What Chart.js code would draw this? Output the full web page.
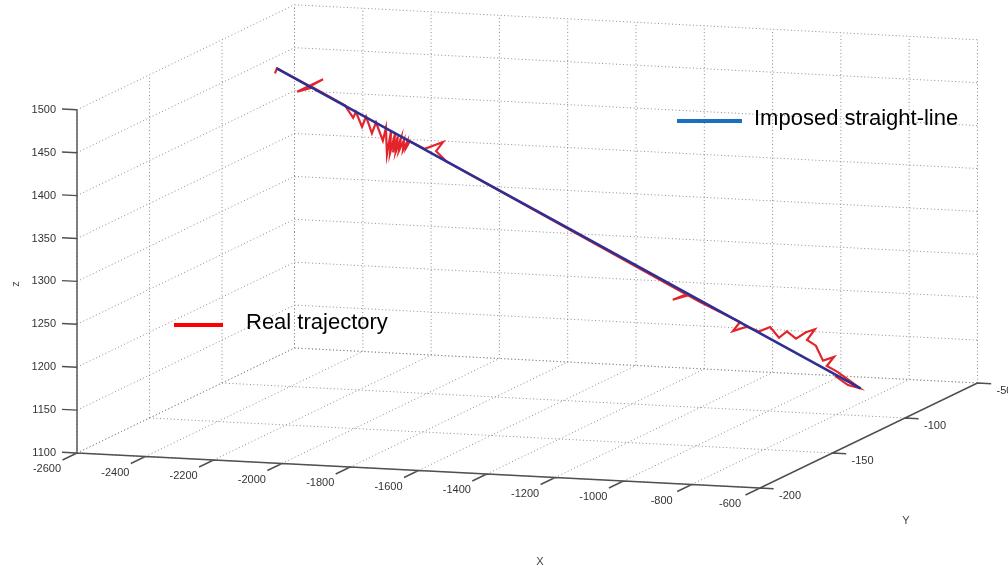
<!DOCTYPE html>
<html lang="en">
<head>
  <meta charset="UTF-8" />
  <title>Real trajectory vs imposed straight-line</title>
  <script src="https://cdn.jsdelivr.net/npm/chart.js"></script>
  <style>
    html, body { margin: 0; padding: 0; background: #fff; }
    #wrap { position: relative; width: 1008px; height: 572px; }
  </style>
</head>
<body>
<div id="wrap"><canvas id="traj"></canvas></div>
<script>
  // axis ticks
  const xTicks = [-2600, -2400, -2200, -2000, -1800, -1600, -1400, -1200, -1000, -800, -600];
  const yTicks = [-200, -150, -100, -50];
  const zTicks = [1100, 1150, 1200, 1250, 1300, 1350, 1400, 1450, 1500];

  // imposed straight line (start, end)
  const lineX = [-2440, -730];
  const lineY = [-100, -100];
  const lineZ = [1470, 1132];

  // real trajectory
  const trajX = [-2445, -2439, -2342, -2304, -2380, -2334, -2240, -2216, -2208, -2190,
                 -2178, -2161, -2149, -2129, -2120, -2117, -2105, -2108, -2093, -2099,
                 -2085, -2091, -2076, -2082, -2067, -2070, -2058, -2061, -2050, -2006,
                 -1953, -1973, -1944, -1236, -1280, -1241, -1200, -1083, -1104, -1063,
                 -1028, -995, -969, -946, -919, -890, -864, -887, -861, -840,
                 -808, -829, -799, -761, -732, -767, -805];
  const trajY = [-100, -100, -100, -100, -100, -100, -100, -100, -100, -100,
                 -100, -100, -100, -100, -100, -100, -100, -100, -100, -100,
                 -100, -100, -100, -100, -100, -100, -100, -100, -100, -100,
                 -100, -100, -100, -100, -100, -100, -100, -100, -100, -100,
                 -100, -100, -100, -100, -100, -100, -100, -100, -100, -100,
                 -100, -100, -100, -100, -100, -100, -100];
  const trajZ = [1464, 1470, 1451, 1460, 1444, 1450, 1431, 1417, 1424, 1407,
                 1419, 1400, 1413, 1392, 1407, 1376, 1404, 1378, 1401, 1379,
                 1398, 1380, 1396, 1381, 1394, 1382, 1392, 1385, 1393, 1385,
                 1394, 1383, 1372, 1230, 1224, 1231, 1223, 1202, 1191, 1197,
                 1192, 1198, 1186, 1194, 1186, 1194, 1198, 1185, 1179, 1162,
                 1167, 1156, 1150, 1140, 1132, 1135, 1145];

  // simple orthographic view of the box
  const view = { ox: 77, oy: 453, xv: [0.3415, 0.0175], yv: [1.45, -0.70], zv: [0, -0.858] };
  const x0 = xTicks[0], x1 = xTicks[xTicks.length - 1];
  const y0 = yTicks[0], y1 = yTicks[yTicks.length - 1];
  const z0 = zTicks[0], z1 = zTicks[zTicks.length - 1];

  function proj(x, y, z) {
    const dx = x - x0, dy = y - y0, dz = z - z0;
    return {
      x: view.ox + dx * view.xv[0] + dy * view.yv[0] + dz * view.zv[0],
      y: view.oy + dx * view.xv[1] + dy * view.yv[1] + dz * view.zv[1]
    };
  }

  function pts(xs, ys, zs) {
    return xs.map((x, i) => proj(x, ys[i], zs[i]));
  }

  // list of [from, to] 3d segments -> points with gaps
  function segs(list) {
    const out = [];
    list.forEach(([a, b]) => { out.push(proj(...a), proj(...b), { x: null, y: null }); });
    return out;
  }

  const gridSegs = [];
  xTicks.forEach(x => {
    gridSegs.push([[x, y0, z0], [x, y1, z0]]);   // floor
    gridSegs.push([[x, y1, z0], [x, y1, z1]]);   // back wall
  });
  yTicks.forEach(y => {
    gridSegs.push([[x0, y, z0], [x1, y, z0]]);   // floor
    gridSegs.push([[x0, y, z0], [x0, y, z1]]);   // left wall
  });
  zTicks.forEach(z => {
    gridSegs.push([[x0, y1, z], [x1, y1, z]]);   // back wall
    gridSegs.push([[x0, y0, z], [x0, y1, z]]);   // left wall
  });

  const axisSegs = [
    [[x0, y0, z0], [x1, y0, z0]],
    [[x1, y0, z0], [x1, y1, z0]],
    [[x0, y0, z0], [x0, y0, z1]]
  ];
  xTicks.forEach(x => axisSegs.push([[x, y0, z0], [x, y0 - 10, z0]]));
  yTicks.forEach(y => axisSegs.push([[x1, y, z0], [x1 + 40, y, z0]]));
  zTicks.forEach(z => axisSegs.push([[x0, y0, z], [x0 - 44, y0, z]]));

  const FONT = 'Arial, "Liberation Sans", sans-serif';

  const axisText = {
    id: 'axisText',
    afterDraw(chart) {
      const ctx = chart.ctx;
      ctx.save();
      ctx.fillStyle = '#333';
      ctx.font = '11px ' + FONT;

      ctx.textAlign = 'right';
      ctx.textBaseline = 'middle';
      zTicks.forEach(z => { const p = proj(x0, y0, z); ctx.fillText(String(z), p.x - 21, p.y); });

      ctx.textAlign = 'center';
      xTicks.forEach(x => { const p = proj(x, y0, z0); ctx.fillText(String(x), p.x - 30, p.y + 16); });

      ctx.textAlign = 'left';
      yTicks.forEach(y => { const p = proj(x1, y, z0); ctx.fillText(String(y), p.x + 19, p.y + 8); });

      // axis titles
      ctx.fillStyle = '#444';
      ctx.textAlign = 'center';
      ctx.fillText('X', 540, 562);
      ctx.fillText('Y', 906, 521);
      ctx.save();
      ctx.translate(16, 284);
      ctx.rotate(-Math.PI / 2);
      ctx.fillText('z', 0, 0);
      ctx.restore();

      // legend entries
      ctx.font = '22px ' + FONT;
      ctx.fillStyle = '#000';
      ctx.textAlign = 'left';
      ctx.lineWidth = 4;
      ctx.strokeStyle = '#1a70c0';
      ctx.beginPath(); ctx.moveTo(677, 121); ctx.lineTo(742, 121); ctx.stroke();
      ctx.fillText('Imposed straight-line', 754, 119);
      ctx.strokeStyle = '#ff0000';
      ctx.beginPath(); ctx.moveTo(174, 325); ctx.lineTo(223, 325); ctx.stroke();
      ctx.fillText('Real trajectory', 246, 323);
      ctx.restore();
    }
  };

  new Chart(document.getElementById('traj'), {
    type: 'line',
    data: {
      datasets: [
        { label: 'Imposed straight-line', data: pts(lineX, lineY, lineZ),
          borderColor: '#2d2f92', borderWidth: 2.6, order: 0 },
        { label: 'Real trajectory', data: pts(trajX, trajY, trajZ),
          borderColor: '#e3242b', borderWidth: 2.2, order: 1 },
        { label: 'axes', data: segs(axisSegs),
          borderColor: '#505050', borderWidth: 1.4, order: 2 },
        { label: 'grid', data: segs(gridSegs),
          borderColor: '#8c8c8c', borderWidth: 1, borderDash: [1, 2.5], order: 3 }
      ]
    },
    options: {
      responsive: true,
      maintainAspectRatio: false,
      animation: false,
      layout: { padding: 0 },
      elements: { point: { radius: 0 }, line: { tension: 0, fill: false } },
      scales: {
        x: { type: 'linear', min: 0, max: 1008, display: false },
        y: { type: 'linear', min: 0, max: 572, reverse: true, display: false }
      },
      plugins: { legend: { display: false }, tooltip: { enabled: false } }
    },
    plugins: [axisText]
  });
</script>
</body>
</html>
